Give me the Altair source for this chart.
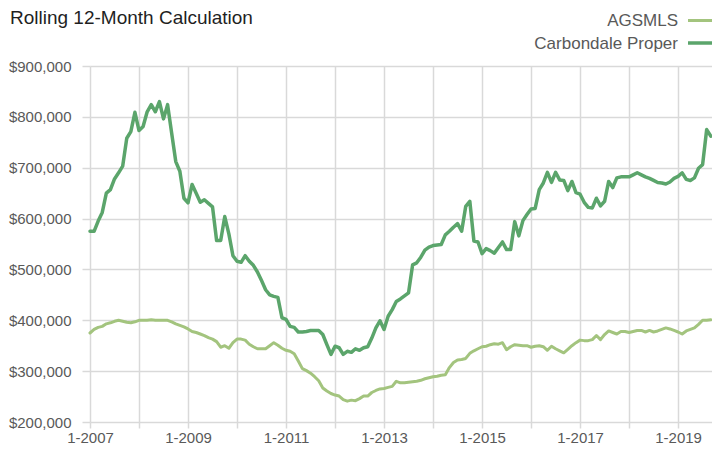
import altair as alt
import pandas as pd

# Month index 0 = January 2007
months = list(range(153))

# Rolling 12-month values, in thousands of dollars
agsmls = [
    375, 382, 386, 388, 393, 395, 398, 400, 398, 396, 395, 397,
    400, 400, 400, 401, 400, 400, 400, 400, 397, 393, 390, 387,
    383, 378, 376, 373, 370, 366, 363, 358, 347, 350, 345, 356,
    363, 363, 361, 353, 348, 344, 344, 344, 350, 356, 351, 345,
    341, 339, 334, 320, 305, 301, 296, 289, 281, 267, 261, 256,
    253, 251, 244, 241, 243, 242, 246, 251, 251, 258, 262, 265,
    266, 268, 270, 280, 277, 277, 278, 279, 280, 282, 285, 287,
    289, 290, 292, 293, 307, 317, 322, 323, 325, 335, 340, 344,
    348, 349, 352, 354, 353, 356, 342, 348, 352, 351, 350, 350,
    347, 349, 350, 348, 341, 349, 344, 340, 336, 343, 350, 356,
    361, 360, 360, 362, 370, 362, 372, 379, 376, 373, 378, 378,
    376, 378, 380, 380, 377, 380, 377, 379, 382, 385, 383, 380,
    377, 373, 379, 382, 385, 392, 400, 400, 401,
]

carbondale = [
    575, 575, 595, 612, 650, 657, 678, 690, 703, 758, 771, 809,
    773, 781, 810, 824, 810, 830, 796, 824, 768, 712, 693, 640,
    631, 667, 650, 632, 637, 630, 623, 557, 557, 604, 570, 527,
    516, 514, 527, 516, 508, 495, 478, 460, 450, 447, 445, 405,
    402, 388, 386, 377, 377, 378, 380, 380, 380, 372, 352, 333,
    349, 346, 333, 339, 337, 344, 341, 346, 348, 365, 385, 399,
    382, 408, 421, 437, 442, 448, 454, 509, 513, 524, 538, 544,
    547, 548, 549, 568, 575, 583, 590, 575, 624, 634, 556, 554,
    531, 541, 537, 532, 543, 554, 539, 539, 594, 566, 596, 608,
    619, 620, 657, 670, 691, 671, 691, 676, 675, 655, 673, 651,
    648, 632, 622, 621, 640, 625, 634, 673, 661, 680, 682, 682,
    682, 686, 690, 686, 682, 679, 675, 671, 670, 668, 672, 679,
    683, 690, 677, 675, 680, 699, 706, 775, 762,
]

series_names = ["AGSMLS", "Carbondale Proper"]
series_colors = ["#a3c47e", "#5ba56b"]
series_widths = [3, 3.5]
year_ticks = list(range(0, 145, 12))
y_ticks = list(range(200000, 900001, 100000))
title_text = ["Rolling 12-Month Calculation"]

FONT = "Liberation Sans"
GRID = "#d9d9d9"
LABEL = "#595959"

df = pd.DataFrame({
    "m": months + months,
    "value": [v * 1000 for v in agsmls] + [v * 1000 for v in carbondale],
    "series": [series_names[0]] * len(months) + [series_names[1]] * len(months),
})

lines = alt.Chart(df).mark_line(strokeJoin="round", strokeCap="round").encode(
    x=alt.X(
        "m:Q",
        scale=alt.Scale(domain=[0, 152.3], nice=False, zero=False),
        axis=alt.Axis(
            values=year_ticks,
            labelExpr="datum.value % 24 == 0 ? '1-' + (2007 + datum.value / 12) : ''",
            title=None, domain=False, grid=True, gridColor=GRID, gridWidth=1.5,
            tickColor=GRID, tickWidth=1.5, tickSize=6, labelPadding=2,
            labelFont=FONT, labelFontSize=15, labelColor=LABEL,
            labelFlush=False, labelOverlap=False,
        ),
    ),
    y=alt.Y(
        "value:Q",
        scale=alt.Scale(domain=[200000, 900000], nice=False, zero=False),
        axis=alt.Axis(
            values=y_ticks, format="$,.0f",
            title=None, domain=False, grid=True, gridColor=GRID, gridWidth=1.5,
            tickColor=GRID, tickWidth=1.5, tickSize=8, labelPadding=11,
            labelFont=FONT, labelFontSize=15, labelColor=LABEL,
        ),
    ),
    color=alt.Color("series:N", scale=alt.Scale(domain=series_names, range=series_colors), legend=None),
    strokeWidth=alt.StrokeWidth("series:N", scale=alt.Scale(domain=series_names, range=series_widths), legend=None),
    detail="series:N",
)

title = alt.Chart(pd.DataFrame({"t": title_text})).mark_text(
    align="left", baseline="top", font=FONT, fontSize=19, color="#1f1f1f"
).encode(text="t:N", x=alt.value(-80), y=alt.value(-57))

legend_layers = []
legend_y = [-40, -17.5]
symbol_y = [-45.5, -23]
for i, name in enumerate(series_names):
    legend_layers.append(
        alt.Chart(pd.DataFrame({"s": [name]})).mark_text(
            align="right", baseline="alphabetic", font=FONT, fontSize=17, color=LABEL
        ).encode(text="s:N", x=alt.value(588), y=alt.value(legend_y[i]))
    )
    legend_layers.append(
        alt.Chart(pd.DataFrame({"s": [name]})).mark_rule(
            color=series_colors[i], strokeWidth=series_widths[i]
        ).encode(x=alt.value(598), x2=alt.value(622), y=alt.value(symbol_y[i]))
    )

chart = alt.layer(lines, title, *legend_layers).properties(
    width=622,
    height=356,
    autosize=alt.AutoSizeParams(type="none"),
    padding={"left": 82, "top": 58, "right": 0, "bottom": 27},
    background="white",
).configure_view(stroke=None)

chart.save("out.html", embed_options={"renderer": "svg", "actions": False})
